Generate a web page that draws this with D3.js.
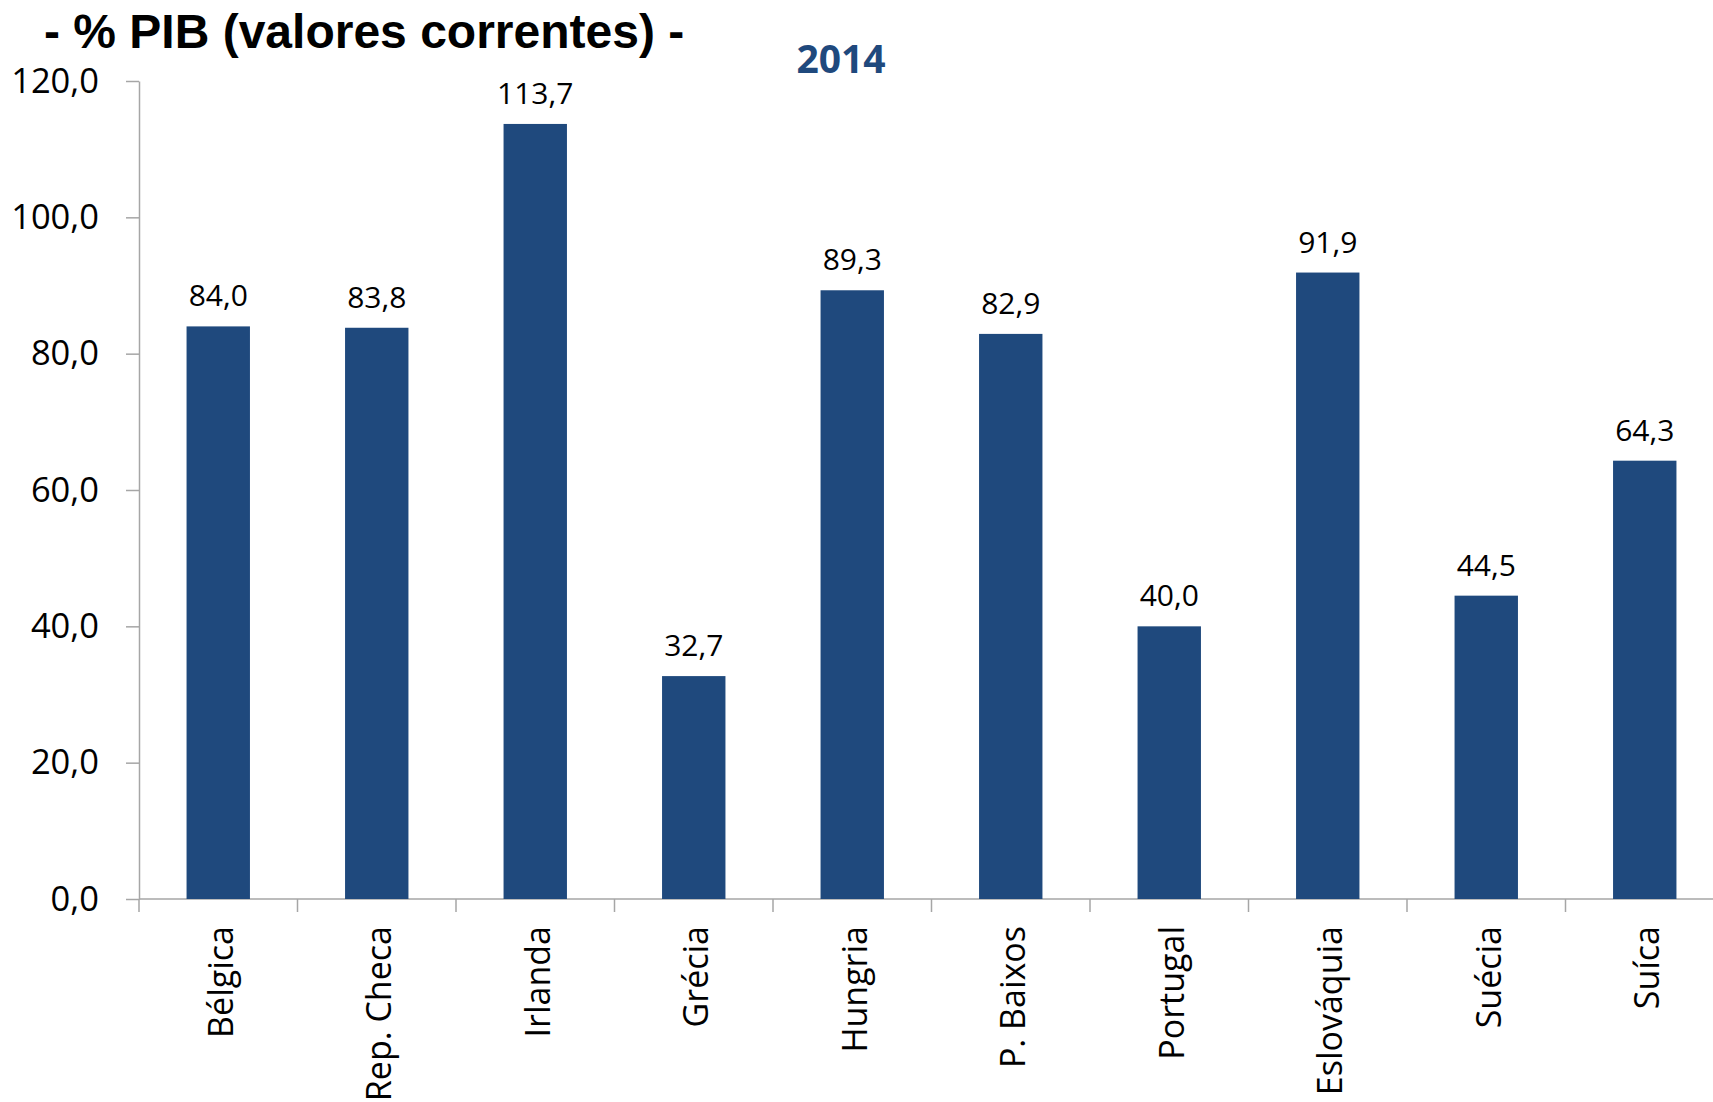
<!DOCTYPE html>
<html>
<head>
<meta charset="utf-8">
<script src="https://cdn.jsdelivr.net/npm/d3@7"></script>
<style>
    body { margin: 0; background: #fff; }
    svg { display: block; }
</style>
</head>
<body>
<div id="chart"></div>
<script>
// dados
var paises = ['Bélgica', 'Rep. Checa', 'Irlanda', 'Grécia', 'Hungria',
              'P. Baixos', 'Portugal', 'Eslováquia', 'Suécia', 'Suíca'];
var valores = [84.0, 83.8, 113.7, 32.7, 89.3, 82.9, 40.0, 91.9, 44.5, 64.3];
var yTicks = [0, 20, 40, 60, 80, 100, 120];
var titulo = '- % PIB (valores correntes) -';
var ano = '2014';

var width = 1713, height = 1102;
var corBarra = '#1f497d';
var corEixo = '#a6a6a6';
var fonte = '"Open Sans", "Noto Sans", sans-serif';

var pt = d3.formatLocale({ decimal: ',', thousands: '.', grouping: [3], currency: ['', '€'] });
var fmt = pt.format('.1f');

var svg = d3.select('#chart').append('svg')
    .attr('width', width).attr('height', height);

var x0 = 139, y0 = 899, yTop = 81;
var step = 158.5;

var y = d3.scaleLinear()
    .domain([0, 120])
    .range([y0, yTop]);

var x = d3.scaleBand()
    .domain(paises)
    .range([x0, x0 + step * paises.length])
    .paddingInner(0.6)
    .paddingOuter(0.3);

// eixo y
var yAxis = d3.axisLeft(y)
    .tickValues(yTicks)
    .tickSizeInner(13)
    .tickSizeOuter(0)
    .tickPadding(27)
    .tickFormat(fmt);

var gy = svg.append('g')
    .attr('transform', 'translate(' + x0 + ',0)')
    .call(yAxis);
gy.select('.domain').attr('stroke', corEixo).attr('stroke-width', 1.5);
gy.selectAll('.tick line').attr('stroke', corEixo).attr('stroke-width', 1.5);
gy.selectAll('.tick text')
    .attr('fill', '#000')
    .style('font-family', fonte)
    .style('font-size', '34.5px');

// linha de base
svg.append('line')
    .attr('x1', x0).attr('x2', width)
    .attr('y1', y0).attr('y2', y0)
    .attr('stroke', corEixo).attr('stroke-width', 1.5);

// marcas entre categorias
var gap = (x.step() - x.bandwidth()) / 2;
svg.selectAll('.xtick')
    .data(paises)
    .enter().append('line')
    .attr('class', 'xtick')
    .attr('x1', function(d) { return x(d) - gap; })
    .attr('x2', function(d) { return x(d) - gap; })
    .attr('y1', y0).attr('y2', y0 + 13)
    .attr('stroke', corEixo).attr('stroke-width', 1.5);

// barras
svg.selectAll('.bar')
    .data(valores)
    .enter().append('rect')
    .attr('class', 'bar')
    .attr('fill', corBarra)
    .attr('x', function(d, i) { return x(paises[i]); })
    .attr('y', function(d) { return y(d); })
    .attr('width', x.bandwidth())
    .attr('height', function(d) { return y(0) - y(d); });

// rótulos de valores
svg.selectAll('.valor')
    .data(valores)
    .enter().append('text')
    .attr('class', 'valor')
    .attr('x', function(d, i) { return x(paises[i]) + x.bandwidth() / 2; })
    .attr('y', function(d) { return y(d) - 20; })
    .attr('text-anchor', 'middle')
    .style('font-family', fonte)
    .style('font-size', '30px')
    .attr('fill', '#000')
    .text(function(d) { return fmt(d); });

// nomes dos países
svg.selectAll('.pais')
    .data(paises)
    .enter().append('text')
    .attr('class', 'pais')
    .attr('transform', function(d) {
        return 'translate(' + (x(d) + x.bandwidth() / 2) + ',' + (y0 + 27) + ') rotate(-90)';
    })
    .attr('dy', '0.42em')
    .attr('text-anchor', 'end')
    .style('font-family', fonte)
    .style('font-size', '34px')
    .attr('fill', '#000')
    .text(function(d) { return d; });

// títulos
svg.append('text')
    .attr('x', 44).attr('y', 48)
    .style('font-family', '"Liberation Sans", Arial, sans-serif')
    .style('font-weight', 'bold')
    .style('font-size', '48px')
    .attr('fill', '#000')
    .text(titulo);

svg.append('text')
    .attr('x', 841).attr('y', 73)
    .attr('text-anchor', 'middle')
    .style('font-family', fonte)
    .style('font-weight', 'bold')
    .style('font-size', '39px')
    .attr('fill', corBarra)
    .text(ano);
</script>
</body>
</html>
